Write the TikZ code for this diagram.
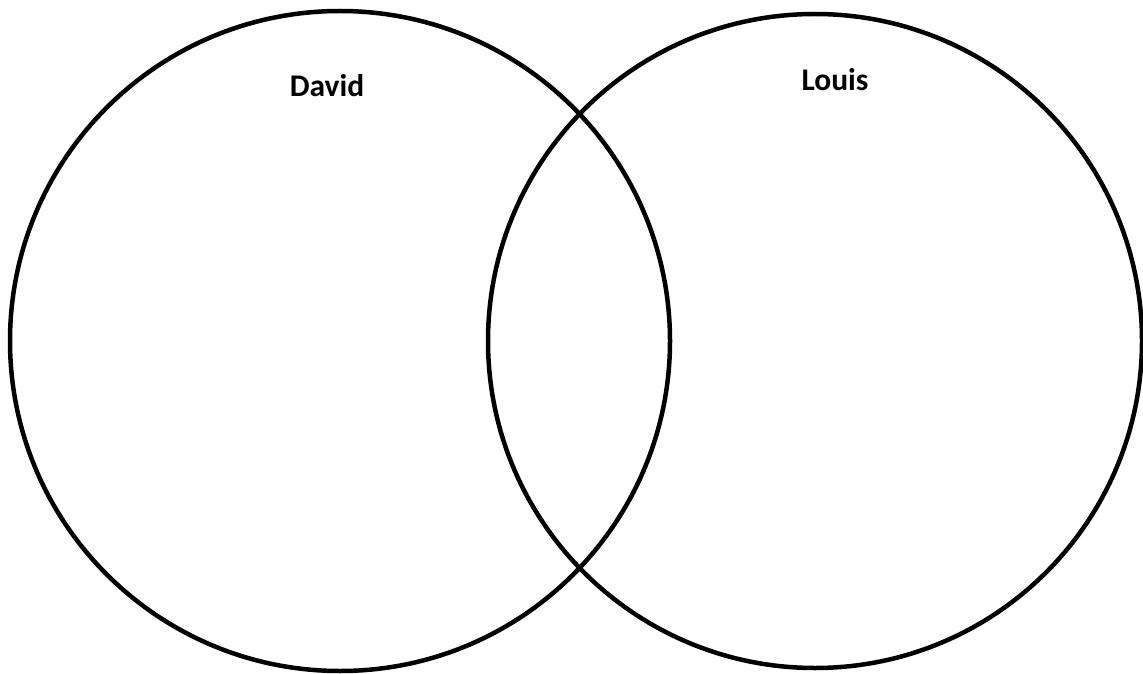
\documentclass[tikz,border=0pt]{standalone}
\usepackage{fontspec}
\setmainfont{Carlito}
\begin{document}
\begin{tikzpicture}[x=1pt,y=-1pt,line width=4.5pt]
\useasboundingbox (0,0) rectangle (1143,674);
\draw (340,341) circle (330);
\draw (815,341) circle (327);
\node[anchor=base,font=\fontsize{31.5}{36}\selectfont\bfseries] (david) at (327,97) {David};
\node[anchor=base,font=\fontsize{31.5}{36}\selectfont\bfseries] (louis) at (835,91) {Louis};
\end{tikzpicture}
\end{document}
